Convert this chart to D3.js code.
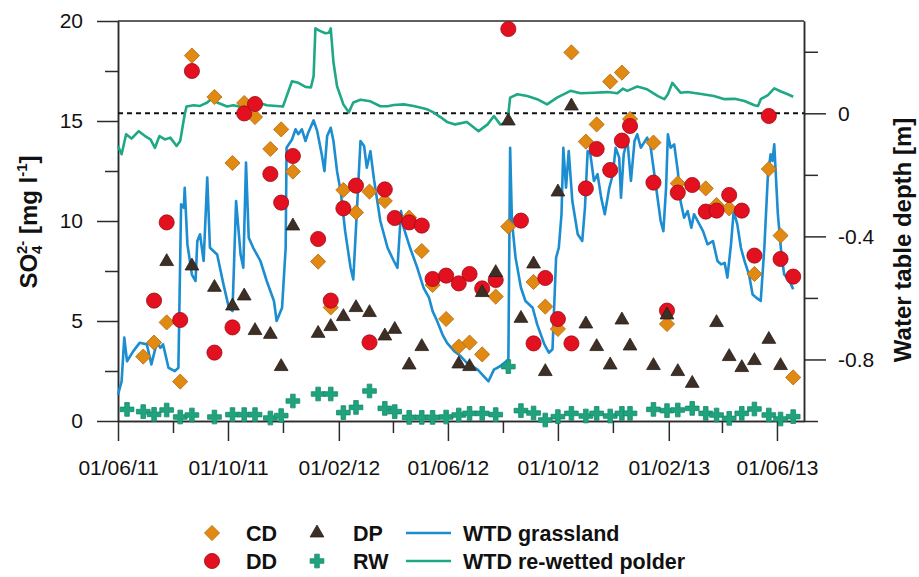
<!DOCTYPE html>
<html>
<head>
<meta charset="utf-8">
<script src="https://cdn.jsdelivr.net/npm/d3@7"></script>
<style>
  body { margin: 0; background: #fff; }
  svg { display: block; font-family: "Liberation Sans", Arial, Helvetica, sans-serif; }
</style>
</head>
<body>
<svg id="chart" width="919" height="577"></svg>
<script>
// Sampling dates of the sulphate measurements
const sampleDates = ["2011-06-11","2011-06-29","2011-07-11","2011-07-25","2011-08-09","2011-08-22","2011-09-16",
  "2011-10-06","2011-10-19","2011-10-31","2011-11-17","2011-11-29","2011-12-12","2012-01-09","2012-01-23",
  "2012-02-06","2012-02-20","2012-03-06","2012-03-23","2012-04-03","2012-04-19","2012-05-03","2012-05-15",
  "2012-05-30","2012-06-13","2012-06-25","2012-07-09","2012-07-24","2012-08-07","2012-08-21","2012-09-04",
  "2012-09-17","2012-10-01","2012-10-16","2012-11-01","2012-11-13","2012-11-28","2012-12-11","2012-12-20",
  "2013-01-15","2013-01-30","2013-02-11","2013-02-27","2013-03-14","2013-03-26","2013-04-09","2013-04-23",
  "2013-05-07","2013-05-23","2013-06-05","2013-06-19"];

// SO4(2-) concentrations [mg l-1] per site, aligned with sampleDates (null = no sample)
const cdValues = [null,3.22,3.92,4.93,1.97,18.27,16.2,12.9,15.9,15.2,13.6,14.58,12.47,7.97,5.68,
  11.55,10.43,11.47,11.0,null,10.17,8.5,6.8,5.1,3.72,3.92,3.33,6.22,9.72,null,6.95,
  5.72,4.6,18.43,13.97,14.83,16.97,17.42,15.1,13.92,4.85,11.88,null,11.63,10.8,10.63,null,
  7.35,12.6,9.27,2.18];
const ddValues = [null,null,6.02,9.93,5.05,17.5,3.42,4.68,15.38,15.85,12.35,10.92,13.25,9.1,6.02,
  10.63,11.77,3.93,11.58,10.15,9.93,9.77,7.1,7.27,6.88,7.35,6.63,7.05,19.6,10.02,3.88,
  7.15,5.1,3.88,11.63,13.6,12.55,14.02,14.75,11.92,5.52,11.42,11.8,10.47,10.52,11.3,10.52,
  8.27,15.25,8.1,7.22];
const dpValues = [null,null,null,7.97,null,7.75,6.68,5.75,6.25,4.52,4.33,2.72,9.75,4.38,4.72,
  5.22,5.67,5.42,4.25,4.58,2.8,3.72,null,null,2.85,2.72,6.42,7.42,15.0,5.13,7.85,
  2.47,11.45,15.75,4.85,3.72,2.8,5.05,3.75,2.77,5.3,2.47,1.88,null,4.92,3.22,2.67,
  3.02,4.08,2.77,null];
const rwValues = [0.58,0.47,0.33,0.55,0.2,0.3,0.2,0.32,0.32,0.32,0.15,0.27,1.0,1.35,1.35,
  0.42,0.68,1.5,0.63,0.47,0.18,0.18,0.18,0.2,0.3,0.38,0.38,0.32,2.72,0.52,0.4,
  0.05,0.22,0.38,0.25,0.38,0.25,0.38,0.38,0.58,0.52,0.55,0.63,0.38,0.3,0.13,0.38,
  0.6,0.3,0.1,0.22];

// Logger water table depth [m], as [days since loggerStart, depth]
const loggerStart = "2011-06-01";
const wtdGrassland = [[0,-0.914],[4,-0.871],[7,-0.729],[10,-0.806],[17,-0.773],[24,-0.746],[32,-0.751],
  [37,-0.816],[43,-0.746],[47,-0.762],[50,-0.751],[56,-0.827],[63,-0.838],[67,-0.827],[70,-0.296],
  [73,-0.307],[74,-0.242],[77,-0.426],[82,-0.524],[86,-0.545],[88,-0.415],[91,-0.393],[95,-0.48],
  [99,-0.209],[102,-0.437],[110,-0.459],[117,-0.556],[123,-0.632],[127,-0.643],[131,-0.285],[136,-0.459],
  [139,-0.502],[142,-0.16],[145,-0.404],[150,-0.437],[158,-0.48],[165,-0.545],[173,-0.61],[176,-0.675],
  [182,-0.632],[186,-0.437],[187,-0.112],[193,-0.085],[197,-0.052],[200,-0.068],[204,-0.052],[208,-0.09],
  [211,-0.063],[217,-0.023],[221,-0.058],[226,-0.133],[229,-0.188],[232,-0.074],[236,-0.047],[239,-0.09],
  [243,-0.188],[247,-0.253],[252,-0.383],[258,-0.502],[261,-0.54],[265,-0.318],[269,-0.09],[273,-0.106],
  [276,-0.177],[280,-0.123],[284,-0.215],[291,-0.35],[299,-0.437],[306,-0.48],[310,-0.502],[314,-0.318],
  [317,-0.372],[324,-0.437],[332,-0.502],[339,-0.567],[345,-0.599],[349,-0.643],[354,-0.675],[360,-0.719],
  [365,-0.746],[373,-0.773],[380,-0.789],[387,-0.811],[399,-0.833],[411,-0.871],[417,-0.833],[424,-0.822],
  [430,-0.807],[433,-0.816],[435,-0.112],[437,-0.35],[441,-0.469],[447,-0.567],[452,-0.61],[460,-0.632],
  [465,-0.686],[473,-0.751],[478,-0.778],[482,-0.767],[486,-0.469],[489,-0.437],[492,-0.328],[494,-0.112],
  [497,-0.242],[500,-0.123],[504,-0.285],[510,-0.393],[515,-0.415],[518,-0.307],[521,-0.123],[524,-0.133],
  [528,-0.22],[532,-0.198],[536,-0.274],[540,-0.328],[545,-0.242],[549,-0.198],[552,-0.112],[556,-0.144],
  [558,-0.274],[561,-0.133],[565,-0.085],[569,-0.22],[573,-0.09],[576,-0.068],[580,-0.112],[587,-0.079],
  [591,-0.112],[595,-0.198],[599,-0.285],[602,-0.35],[605,-0.383],[608,-0.242],[610,-0.068],[613,-0.112],
  [617,-0.101],[621,-0.188],[624,-0.285],[628,-0.339],[632,-0.318],[636,-0.372],[639,-0.328],[643,-0.35],
  [649,-0.383],[654,-0.426],[660,-0.415],[665,-0.48],[669,-0.491],[673,-0.486],[676,-0.534],[680,-0.426],
  [683,-0.318],[687,-0.361],[691,-0.437],[695,-0.48],[700,-0.524],[704,-0.589],[708,-0.599],[713,-0.61],
  [717,-0.437],[721,-0.198],[724,-0.133],[726,-0.155],[728,-0.101],[732,-0.328],[736,-0.459],[739,-0.524],
  [745,-0.545],[749,-0.572]];
const wtdPolder = [[0,-0.106],[4,-0.133],[9,-0.068],[15,-0.082],[23,-0.058],[30,-0.074],[36,-0.085],
  [41,-0.112],[46,-0.074],[52,-0.085],[58,-0.079],[65,-0.106],[69,-0.09],[74,-0.003],[76,0.022],[84,0.026],
  [91,0.024],[99,0.035],[104,0.048],[110,0.035],[121,0.022],[128,0.026],[134,0.022],[143,0.037],[150,0.037],
  [158,0.033],[165,0.026],[176,0.024],[183,0.022],[187,0.055],[193,0.104],[200,0.099],[208,0.086],
  [214,0.084],[217,0.121],[219,0.276],[224,0.268],[230,0.26],[234,0.262],[236,0.276],[239,0.166],
  [243,0.088],[250,0.029],[256,0.003],[261,0.035],[269,0.044],[280,0.039],[291,0.023],[299,0.023],
  [306,0.027],[317,0.029],[328,0.024],[343,0.013],[350,0.003],[358,-0.013],[365,-0.028],[374,-0.036],
  [387,-0.028],[400,-0.058],[410,-0.036],[417,-0.009],[424,-0.036],[432,-0.03],[435,0.051],[443,0.062],
  [454,0.056],[465,0.046],[476,0.029],[487,0.051],[502,0.073],[513,0.065],[528,0.067],[543,0.069],
  [554,0.065],[560,0.08],[565,0.073],[576,0.087],[587,0.078],[599,0.056],[606,0.046],[610,0.062],
  [615,0.099],[624,0.067],[632,0.069],[647,0.063],[661,0.056],[673,0.046],[684,0.047],[695,0.04],
  [706,0.026],[710,0.024],[713,0.046],[721,0.059],[728,0.081],[736,0.07],[743,0.062],[749,0.054]];

// Axis ticks
const dateMajorTicks = ["2011-06-01","2011-10-01","2012-02-01","2012-06-01","2012-10-01","2013-02-01","2013-06-01"];
const dateMinorTicks = ["2011-08-01","2011-12-01","2012-04-01","2012-08-01","2012-12-01","2013-04-01"];
const so4MajorTicks = [0, 5, 10, 15, 20];
const so4MinorTicks = [2.5, 7.5, 12.5, 17.5];
const wtdMajorTicks = [0, -0.4, -0.8];
const wtdMinorTicks = [0.2, -0.2, -0.6, -1.0];

const parse = d3.timeParse("%Y-%m-%d");
const start = parse(loggerStart);
const dayToDate = d => d3.timeDay.offset(start, d);

const svg = d3.select("#chart");
const frame = { left: 118, right: 804, top: 21, bottom: 421 };
const axisColor = "#2b2b2b";

const x = d3.scaleTime()
  .domain([parse("2011-06-01"), parse("2013-07-01")])
  .range([frame.left, frame.right]);
const yS = d3.scaleLinear().domain([0, 20]).range([frame.bottom, frame.top]);
const yW = d3.scaleLinear().domain([-1.0, 0.3]).range([frame.bottom, frame.top]);

function styleAxis(g, size) {
  g.attr("font-family", null).attr("font-size", size);
  g.selectAll(".domain, .tick line").attr("stroke", axisColor).attr("stroke-width", 1.5);
  g.selectAll("text").attr("fill", "#111");
}

// Minor ticks
svg.append("g").attr("transform", `translate(${frame.left},0)`)
  .call(d3.axisLeft(yS).tickValues(so4MinorTicks).tickSize(13).tickSizeOuter(0).tickFormat(""))
  .call(g => styleAxis(g, 21));
svg.append("g").attr("transform", `translate(${frame.right},0)`)
  .call(d3.axisRight(yW).tickValues(wtdMinorTicks).tickSize(14).tickSizeOuter(0).tickFormat(""))
  .call(g => styleAxis(g, 21));
svg.append("g").attr("transform", `translate(0,${frame.bottom})`)
  .call(d3.axisBottom(x).tickValues(dateMinorTicks.map(parse)).tickSize(12).tickSizeOuter(0).tickFormat(""))
  .call(g => styleAxis(g, 21));

// Major ticks with labels
svg.append("g").attr("transform", `translate(${frame.left},0)`)
  .call(d3.axisLeft(yS).tickValues(so4MajorTicks).tickSize(21).tickSizeOuter(0).tickPadding(14))
  .call(g => styleAxis(g, 21));
svg.append("g").attr("transform", `translate(${frame.right},0)`)
  .call(d3.axisRight(yW).tickValues(wtdMajorTicks).tickSize(22).tickSizeOuter(0).tickPadding(12)
    .tickFormat(d => d === 0 ? "0" : d.toFixed(1)))
  .call(g => styleAxis(g, 21));
svg.append("g").attr("transform", `translate(0,${frame.bottom})`)
  .call(d3.axisBottom(x).tickValues(dateMajorTicks.map(parse)).tickSize(20).tickSizeOuter(0).tickPadding(19)
    .tickFormat(d3.timeFormat("%d/%m/%y")))
  .call(g => styleAxis(g, 21));

// Top border of the frame
svg.append("line")
  .attr("x1", x.range()[0]).attr("x2", x.range()[1])
  .attr("y1", yS(20)).attr("y2", yS(20))
  .attr("stroke", axisColor).attr("stroke-width", 1.5);

// Soil surface (water table depth = 0)
svg.append("line")
  .attr("x1", x.range()[0]).attr("x2", x.range()[1])
  .attr("y1", yW(0)).attr("y2", yW(0))
  .attr("stroke", "#111").attr("stroke-width", 2).attr("stroke-dasharray", "5,4");

const colors = {
  grass: "#1b8dd0",
  polder: "#1ea886",
  cd: "#e08a14",
  dd: "#e3101f",
  dp: "#3d2e26",
  rw: "#1ea37e"
};

const wtdLine = d3.line().x(d => x(dayToDate(d[0]))).y(d => yW(d[1]));
svg.append("path").datum(wtdGrassland).attr("d", wtdLine)
  .attr("fill", "none").attr("stroke", colors.grass).attr("stroke-width", 2.6).attr("stroke-linejoin", "round");
svg.append("path").datum(wtdPolder).attr("d", wtdLine)
  .attr("fill", "none").attr("stroke", colors.polder).attr("stroke-width", 2.6).attr("stroke-linejoin", "round");

// Marker styles
const markers = {
  cd: { path: d3.symbol(d3.symbolSquare, 115)(), rotate: 45, fill: colors.cd, stroke: "#b86d0c" },
  dd: { path: d3.symbol(d3.symbolCircle, 180)(), rotate: 0, fill: colors.dd, stroke: "#9c0b14" },
  dp: { path: d3.symbol(d3.symbolTriangle, 82)(), rotate: 0, fill: colors.dp, stroke: "#2a1f19" },
  rw: { path: d3.symbol(d3.symbolCross, 105)(), rotate: 0, fill: colors.rw, stroke: "#178a69" }
};

function drawSeries(values, m) {
  const pts = sampleDates.map((s, i) => ({ date: parse(s), v: values[i] })).filter(d => d.v != null);
  svg.append("g").selectAll("path").data(pts).join("path")
    .attr("d", m.path)
    .attr("transform", d => `translate(${x(d.date)},${yS(d.v)}) rotate(${m.rotate})`)
    .attr("fill", m.fill).attr("stroke", m.stroke).attr("stroke-width", 0.8);
}
drawSeries(cdValues, markers.cd);
drawSeries(ddValues, markers.dd);
drawSeries(dpValues, markers.dp);
drawSeries(rwValues, markers.rw);

// Axis titles
const leftTitle = svg.append("text")
  .attr("transform", `translate(37,${(frame.top + frame.bottom) / 2 + 1}) rotate(-90)`)
  .attr("text-anchor", "middle").attr("font-size", 24).attr("font-weight", "bold").attr("fill", "#111");
leftTitle.append("tspan").text("SO");
leftTitle.append("tspan").attr("font-size", 15).attr("dy", 5).text("4");
leftTitle.append("tspan").attr("font-size", 15).attr("dx", -8.5).attr("dy", -15).text("2-");
leftTitle.append("tspan").attr("dy", 10).text(" [mg l");
leftTitle.append("tspan").attr("font-size", 15).attr("dy", -10).text("-1");
leftTitle.append("tspan").attr("dy", 10).text("]");

svg.append("text")
  .attr("transform", `translate(911,240) rotate(-90)`)
  .attr("text-anchor", "middle").attr("font-size", 24).attr("font-weight", "bold").attr("fill", "#111")
  .text("Water table depth [m]");

// Legend
const legend = svg.append("g").attr("font-size", 21.5).attr("font-weight", "bold").attr("fill", "#111");
const rowY = [533, 561];
const legendItems = [
  { type: "marker", m: markers.cd, label: "CD", col: 0, row: 0 },
  { type: "marker", m: markers.dd, label: "DD", col: 0, row: 1 },
  { type: "marker", m: markers.dp, label: "DP", col: 1, row: 0 },
  { type: "marker", m: markers.rw, label: "RW", col: 1, row: 1 },
  { type: "line", color: colors.grass, label: "WTD grassland", col: 2, row: 0 },
  { type: "line", color: colors.polder, label: "WTD re-wetted polder", col: 2, row: 1 }
];
const colX = [{ sym: 212, text: 246 }, { sym: 317, text: 353 }, { sym: 428, text: 463 }];
legendItems.forEach(it => {
  const cy = rowY[it.row], c = colX[it.col];
  if (it.type === "marker") {
    legend.append("path").attr("d", it.m.path)
      .attr("transform", `translate(${c.sym},${cy}) rotate(${it.m.rotate})`)
      .attr("fill", it.m.fill).attr("stroke", it.m.stroke).attr("stroke-width", 0.8);
  } else {
    legend.append("line").attr("x1", c.sym - 22).attr("x2", c.sym + 23).attr("y1", cy).attr("y2", cy)
      .attr("stroke", it.color).attr("stroke-width", 2.6);
  }
  legend.append("text").attr("x", c.text).attr("y", cy).attr("dy", "0.36em").text(it.label);
});
</script>
</body>
</html>
